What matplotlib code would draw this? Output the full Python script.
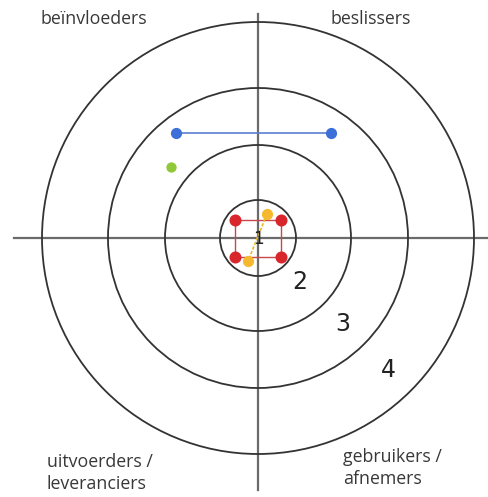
import matplotlib.pyplot as plt
from matplotlib.patches import Circle

# target rings, centre at (0, 0), units ~ pixels
ring_radii = [38, 93, 150, 216]
ring_labels = ["1", "2", "3", "4"]
ring_label_x = [0, 42, 85, 130]
ring_label_y = [-1, -44, -86, -132]

# stakeholders
red_x = [-23, 23, 23, -23]
red_y = [18, 18, -19, -19]
yellow_x = [9, -10]
yellow_y = [24, -23]
blue_x = [-82, 73]
blue_y = [105, 105]
green_x = [-87]
green_y = [71]

quadrant_labels = ["beïnvloeders", "beslissers", "uitvoerders /\nleveranciers", "gebruikers /\nafnemers"]
quadrant_x = [-218, 72, -211, 85]
quadrant_y = [219, 219, -235, -230]


def main():
    fig = plt.figure(figsize=(4.88, 4.97), dpi=100)
    ax = fig.add_axes([0, 0, 1, 1])
    ax.set_xlim(-258, 230)
    ax.set_ylim(-259, 238)
    ax.set_aspect("equal")
    ax.axis("off")

    # cross
    ax.plot([-244, 230], [0, 0], color="#6b6b6b", lw=1.6, zorder=1)
    ax.plot([0, 0], [224, -252], color="#6b6b6b", lw=1.6, zorder=1)

    for r in ring_radii:
        ax.add_patch(Circle((0, 0), r, fill=False, ec="#333333", lw=1.3, zorder=2))

    for lab, x, y in zip(ring_labels, ring_label_x, ring_label_y):
        size = 12 if lab == "1" else 17
        ax.text(x, y, lab, fontsize=size, ha="center", va="center", color="#222222",
                family="DejaVu Sans", zorder=5)

    # red square
    ax.plot(red_x + red_x[:1], red_y + red_y[:1], color="#c8474a", lw=1.0, zorder=3)
    ax.scatter(red_x, red_y, s=75, color="#d9262c", zorder=4, linewidths=0)

    ax.plot(yellow_x, yellow_y, color="#e8bb2a", lw=1.2, ls=(0, (2, 1)), zorder=3)
    ax.scatter(yellow_x, yellow_y, s=65, color="#f5b82e", zorder=4, linewidths=0)

    ax.plot(blue_x, blue_y, color="#5b7fcf", lw=1.2, zorder=3)
    ax.scatter(blue_x, blue_y, s=65, color="#3d6fd9", zorder=4, linewidths=0)

    ax.scatter(green_x, green_y, s=55, color="#8fc93a", zorder=4, linewidths=0)

    for lab, x, y in zip(quadrant_labels, quadrant_x, quadrant_y):
        ax.text(x, y, lab, fontsize=12.8, ha="left", va="center", color="#383838",
                family="Open Sans", linespacing=1.25)

    fig.savefig("out.png", dpi=100)


if __name__ == "__main__":
    main()
